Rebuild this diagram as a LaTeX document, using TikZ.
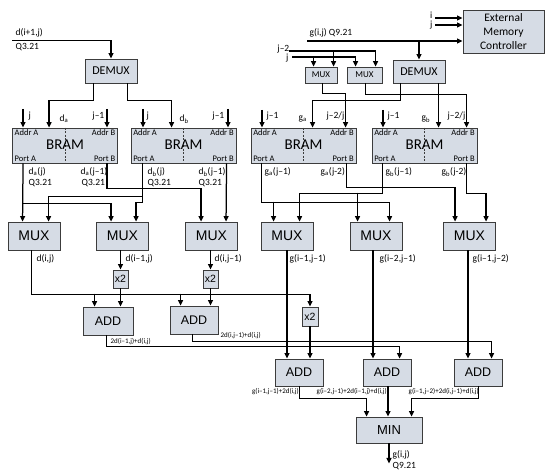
\documentclass[tikz,border=0pt]{standalone}
\usepackage{fontspec}
\setmainfont{Carlito}
\newfontfamily\arialf{Liberation Sans}
\usetikzlibrary{arrows.meta}
\definecolor{boxfill}{RGB}{214,220,229}
\definecolor{boxline}{RGB}{60,60,60}
\tikzset{
  box/.style={draw=boxline, fill=boxfill, line width=0.9pt, inner sep=0pt},
  wire/.style={line width=1.25pt, black},
  arr/.style={wire, -{Triangle[length=5.5pt,width=5pt]}},
  lbl/.style={font=\fontsize{9.5}{10}\selectfont, inner sep=0.5pt},
  slbl/.style={font=\fontsize{8.5}{9}\selectfont, inner sep=0.5pt},
  tiny/.style={font=\fontsize{7}{8}\selectfont, inner sep=0.5pt},
  muxb/.style={box, minimum width=52pt, minimum height=28pt, font=\arialf\fontsize{14}{14}\selectfont},
  addb/.style={box, minimum width=48pt, minimum height=28pt, font=\arialf\fontsize{12.5}{12.5}\selectfont},
  x2b/.style={box, minimum width=15pt, minimum height=18pt, font=\arialf\fontsize{10.5}{10.5}\selectfont},
}
\newcommand\mkbram[2]{%
  \node[box,minimum width=105pt,minimum height=35pt] (#1) at (#2,145.5) {};
  \draw[boxline,line width=0.5pt,dash pattern=on 2pt off 1.5pt] (#1.north) -- (#1.south);
  \node[font=\fontsize{15}{15}\selectfont,inner sep=0pt] (#1t) at ([yshift=1pt]#1.center) {BRAM};
  \node[slbl,anchor=north west] (#1aa) at ([xshift=2pt,yshift=-1.5pt]#1.north west) {Addr A};
  \node[slbl,anchor=north east] (#1ab) at ([xshift=-2pt,yshift=-1.5pt]#1.north east) {Addr B};
  \node[slbl,anchor=south west] (#1pa) at ([xshift=2pt,yshift=1.5pt]#1.south west) {Port A};
  \node[slbl,anchor=south east] (#1pb) at ([xshift=-2pt,yshift=1.5pt]#1.south east) {Port B};
}
\begin{document}
\begin{tikzpicture}[x=1pt,y=-1pt]
\useasboundingbox[fill=white] (0,0) rectangle (550,476);

% ---------- boxes ----------
\node[box,minimum width=52pt,minimum height=24pt,font=\fontsize{12}{12}\selectfont] (demuxA) at (111,71) {DEMUX};
\node[box,minimum width=52pt,minimum height=23pt,font=\fontsize{12}{12}\selectfont] (demuxB) at (419,71.5) {DEMUX};
\node[box,minimum width=81pt,minimum height=43pt,align=center,font=\fontsize{11.5}{14}\selectfont] (emc) at (503.5,31.5) {External\\Memory\\Controller};
\node[box,minimum width=32pt,minimum height=16pt,font=\fontsize{9}{9}\selectfont] (smuxA) at (321,75) {MUX};
\node[box,minimum width=35pt,minimum height=16pt,font=\fontsize{9}{9}\selectfont] (smuxB) at (364.5,75) {MUX};

\mkbram{bram1}{65}
\mkbram{bram2}{183.5}
\mkbram{bram3}{303.5}
\mkbram{bram4}{424.5}

\node[muxb] (mux1) at (34,236) {MUX};
\node[muxb] (mux2) at (122.5,236) {MUX};
\node[muxb] (mux3) at (211.5,236) {MUX};
\node[muxb] (mux4) at (287,236) {MUX};
\node[muxb] (mux5) at (376,236) {MUX};
\node[muxb] (mux6) at (469.5,236) {MUX};

\node[x2b] (x2a) at (120.5,279) {x2};
\node[x2b] (x2bb) at (210.5,279) {x2};
\node[x2b,minimum width=16pt,minimum height=19pt] (x2c) at (310,316.5) {x2};

\node[addb,minimum width=50pt] (add1) at (108,321) {ADD};
\node[addb] (add2) at (194,320) {ADD};
\node[addb,minimum height=27pt] (add3) at (299,372.5) {ADD};
\node[addb,minimum height=27pt] (add4) at (387,372.5) {ADD};
\node[addb,minimum height=27pt] (add5) at (478,372.5) {ADD};

\node[box,minimum width=66pt,minimum height=26pt,font=\arialf\fontsize{13}{13}\selectfont] (minb) at (389,430) {MIN};

% ---------- free ends ----------
\coordinate (inA) at (12,40.5);
\coordinate (gin) at (307,41);
\coordinate (iin) at (435,18);
\coordinate (jin) at (435,25);
\coordinate (jm2) at (289,51);
\coordinate (jj) at (292,57);
\coordinate (jA) at (23,109);
\coordinate (jmA) at (107,109);
\coordinate (jB) at (143,109);
\coordinate (jmB) at (228,109);
\coordinate (jmC) at (262,110);
\coordinate (jmD) at (383,110);

% ---------- top left ----------
\draw[arr] (inA) -| (demuxA.north);
\draw[arr] ([xshift=9pt]demuxA.south west) -- ++(0,17) -| ([xshift=37pt]bram1.north west);
\draw[arr] ([xshift=43pt]demuxA.south west) -- ++(0,17) -| ([xshift=41pt]bram2.north west);
\draw[arr] (jA) -- (jA |- bram1.north);
\draw[arr] (jmA) -- (jmA |- bram1.north);
\draw[arr] (jB) -- (jB |- bram2.north);
\draw[arr] (jmB) -- (jmB |- bram2.north);

% ---------- top right ----------
\draw[arr] (gin) -- (gin -| emc.west);
\draw[arr] (gin -| demuxB.north) -- (demuxB.north);
\draw[arr] (iin) -- (iin -| emc.west);
\draw[arr] (jin) -- (jin -| emc.west);
\draw[arr] (jm2) -| ([xshift=29pt]smuxB.north west);
\draw[arr] ([xshift=29pt]smuxA.north west |- jm2) -- ([xshift=29pt]smuxA.north west);
\draw[arr] (jj) -| ([xshift=9pt]smuxB.north west);
\draw[arr] ([xshift=9pt]smuxA.north west |- jj) -- ([xshift=9pt]smuxA.north west);
\draw[arr] ([xshift=18pt]smuxA.south west) -- ++(0,10) -| ([xshift=95pt]bram3.north west);
\draw[arr] ([xshift=19pt]smuxB.south west) -- ++(0,11) -| ([xshift=95pt]bram4.north west);
\draw[arr] ([xshift=8pt]demuxB.south west) -- ++(0,17) -| ([xshift=62pt]bram3.north west);
\draw[arr] ([xshift=46pt]demuxB.south west) -- ([xshift=67pt]bram4.north west);
\draw[arr] (jmC) -- (jmC |- bram3.north);
\draw[arr] (jmD) -- (jmD |- bram4.north);

% ---------- BRAM outputs left ----------
\draw[arr] ([xshift=11pt]bram1.south west) -- ([xshift=15pt]mux1.north west);
\draw[arr] ([xshift=11pt,yshift=-40pt]bram1.south west) -| ([xshift=15pt]mux2.north west);
\draw[arr] ([xshift=95pt]bram1.south west) -- ++(0,25) -| ([xshift=16pt]mux3.north west);
\draw[arr] ([xshift=12pt]bram2.south west) -- ++(0,33) -| ([xshift=41pt]mux1.north west);
\draw[arr] ([xshift=12pt]bram2.south west) -- ++(0,39) -| ([xshift=40pt]mux2.north west);
\draw[arr] ([xshift=96pt]bram2.south west) -- ([xshift=41pt]mux3.north west);

% ---------- BRAM outputs right ----------
\draw[arr] ([xshift=11pt]bram3.south west) -- ++(0,39) -| ([xshift=40pt]mux5.north west);
\draw[arr] ([xshift=13pt,yshift=20pt]mux4.north west) -- ([xshift=13pt]mux4.north west);
\draw[arr] ([xshift=96pt]bram3.south west) -- ++(0,24) -| ([xshift=12pt]mux6.north west);
\draw[arr] ([xshift=11pt]bram4.south west) -- ++(0,30) -| ([xshift=39pt]mux4.north west);
\draw[arr] ([xshift=8pt,yshift=29pt]mux5.north west) -- ([xshift=8pt]mux5.north west);
\draw[arr] ([xshift=95pt]bram4.south west) -- ++(0,30) -| ([xshift=43pt]mux6.north west);

% ---------- MUX outputs ----------
\draw[arr] ([xshift=24pt]mux1.south west) -- ++(0,44) -| (x2c.north);
\draw[arr] ([xshift=12pt,yshift=13pt]add1.north west) -- ([xshift=12pt]add1.north west);
\draw[arr] ([xshift=11pt,yshift=12pt]add2.north west) -- ([xshift=11pt]add2.north west);
\draw[arr] (x2a.north |- mux2.south) -- (x2a.north);
\draw[arr] (x2a.south) -- (x2a.south |- add1.north);
\draw[arr] (x2bb.north |- mux3.south) -- (x2bb.north);
\draw[arr] (x2bb.south) -- (x2bb.south |- add2.north);
\draw[arr] (mux4.south) -- (mux4.south |- add3.north);
\draw[arr] ([xshift=-3pt]mux5.south) -- ([xshift=-3pt]mux5.south |- add4.north);
\draw[arr] ([xshift=-1.5pt]mux6.south) -- ([xshift=-1.5pt]mux6.south |- add5.north);
\draw[arr] (x2c.south) -- (x2c.south |- add3.north);

% ---------- ADD outputs ----------
\draw[arr] ([xshift=24pt]add1.south west) -- ++(0,11) -| ([xshift=37pt]add4.north west);
\draw[arr] ([xshift=23pt]add2.south west) -- ++(0,7) -| ([xshift=38pt]add5.north west);
\draw[arr] ([xshift=25pt]add3.south west) -- ++(0,12) -| ([xshift=11pt]minb.north west);
\draw[arr] ([xshift=1pt]add4.south) -- ([xshift=1pt]add4.south |- minb.north);
\draw[arr] ([xshift=25pt]add5.south west) -- ++(0,12) -| ([xshift=56pt]minb.north west);
\draw[arr] (minb.south) -- ++(0,20);

% ---------- labels ----------
\node[lbl,anchor=west] (l1) at (15,33) {d(i+1,j)};
\node[lbl,anchor=west] (l2) at (15,47) {Q3.21};
\node[lbl,anchor=west] (l3) at (309,33) {g(i,j) Q9.21};
\node[lbl,anchor=east] (l4) at (433,15) {i};
\node[lbl,anchor=east] (l5) at (433,25) {j};
\node[lbl,anchor=east] (l6) at (290,49) {j–2};
\node[lbl,anchor=east] (l7) at (289,58) {j};

\node[lbl,anchor=west] (t1) at (28,116) {j};
\node[lbl,anchor=west] (t2) at (59,119) {d\textsubscript{a}};
\node[lbl,anchor=east] (t3) at (105,116) {j–1};
\node[lbl,anchor=west] (t4) at (146,116) {j};
\node[lbl,anchor=west] (t5) at (179,119) {d\textsubscript{b}};
\node[lbl,anchor=east] (t6) at (225,116) {j–1};
\node[lbl,anchor=west] (t7) at (266,116) {j–1};
\node[lbl,anchor=west] (t8) at (298,119) {g\textsubscript{a}};
\node[lbl,anchor=east] (t9) at (345,116) {j–2/j};
\node[lbl,anchor=west] (t10) at (387,116) {j–1};
\node[lbl,anchor=west] (t11) at (421,119) {g\textsubscript{b}};
\node[lbl,anchor=east] (t12) at (466,116) {j–2/j};

\node[lbl,anchor=west] (o1) at (28,172) {d\textsubscript{a}(j)};
\node[lbl,anchor=west] (o1q) at (28,183) {Q3.21};
\node[lbl,anchor=west] (o2) at (80,172) {d\textsubscript{a}(j–1)};
\node[lbl,anchor=west] (o2q) at (81,183) {Q3.21};
\node[lbl,anchor=west] (o3) at (147,172) {d\textsubscript{b}(j)};
\node[lbl,anchor=west] (o3q) at (147,183) {Q3.21};
\node[lbl,anchor=west] (o4) at (198,172) {d\textsubscript{b}(j–1)};
\node[lbl,anchor=west] (o4q) at (198,183) {Q3.21};
\node[lbl,anchor=west] (o5) at (264,172) {g\textsubscript{a}(j–1)};
\node[lbl,anchor=west] (o6) at (320,172) {g\textsubscript{a}(j-2)};
\node[lbl,anchor=west] (o7) at (385,172) {g\textsubscript{b}(j–1)};
\node[lbl,anchor=west] (o8) at (441,172) {g\textsubscript{b}(j-2)};

\node[lbl,anchor=west] (m1) at (36,259) {d(i,j)};
\node[lbl,anchor=west] (m2) at (125,259) {d(i–1,j)};
\node[lbl,anchor=west] (m3) at (214,259) {d(i,j–1)};
\node[lbl,anchor=west] (m4) at (289,259) {g(i–1,j–1)};
\node[lbl,anchor=west] (m5) at (379,259) {g(i–2,j–1)};
\node[lbl,anchor=west] (m6) at (472,259) {g(i–1,j–2)};

\node[tiny,anchor=west] (a1) at (110,342) {2d(i–1,j)+d(i,j)};
\node[tiny,anchor=west] (a2) at (220,336) {2d(i,j–1)+d(i,j)};
\node[tiny,anchor=east] (a3) at (299.5,392) {g(i–1,j–1)+2d(i,j)};
\node[tiny,anchor=east] (a4) at (387.5,392) {g(i–2,j–1)+2d(i–1,j)+d(i,j)};
\node[tiny,anchor=east] (a5) at (479.5,392) {g(i–1,j–2)+2d(i,j–1)+d(i,j)};

\node[lbl,anchor=west] (r1) at (392,455) {g(i,j)};
\node[lbl,anchor=west] (r2) at (392,466) {Q9.21};
\end{tikzpicture}
\end{document}
